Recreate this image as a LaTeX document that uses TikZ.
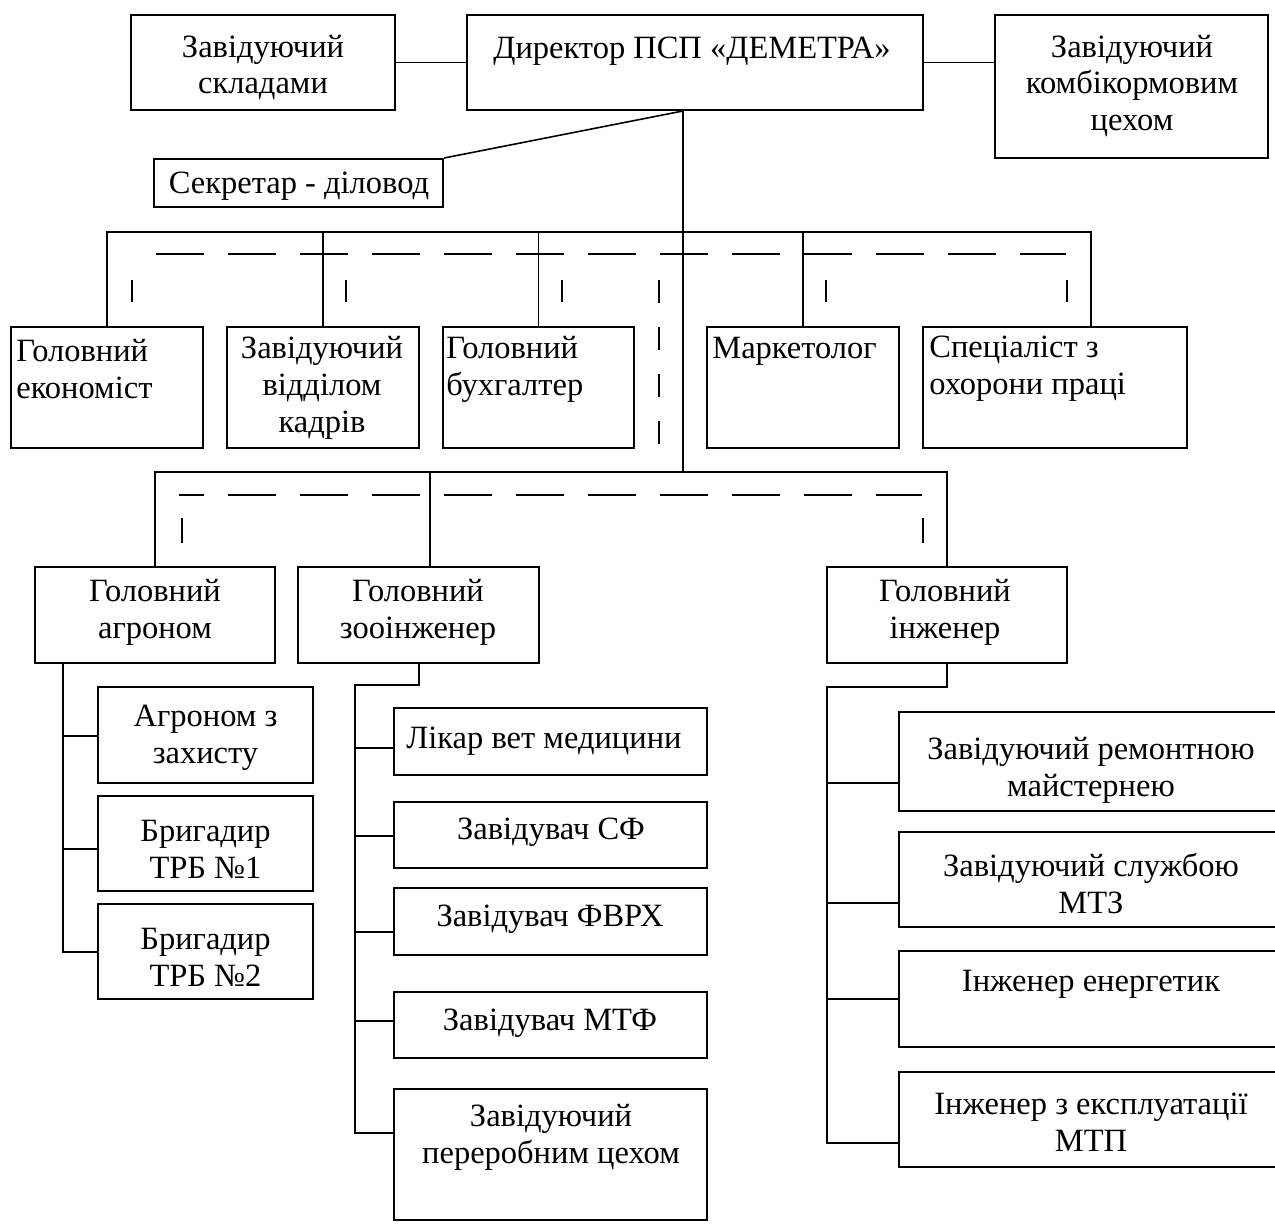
\documentclass[tikz,border=0pt]{standalone}
\usepackage{fontspec}
\setmainfont{Liberation Serif}
\usetikzlibrary{fit}

\begin{document}
\begin{tikzpicture}[x=0.02cm, y=-0.02cm,
	box/.style={draw, line width=1.1pt, inner sep=0pt},
	txt/.style={inner sep=0pt, align=center, yshift=-0.06cm, font=\fontsize{18.5}{21}\selectfont},
	ltxt/.style={txt, align=left, anchor=west},
	link/.style={line width=0.9pt},
	dashlink/.style={line width=0.9pt, dash pattern=on 27.3pt off 13.7pt}]
	\useasboundingbox (0,0) rectangle (1275,1224);

	\node[box, fit={(131,15) (395,110)}] (skl) {};	% top row
	\node[txt] (sklT) at (263,64.5) {Завідуючий\\складами};
	\node[box, fit={(467,15) (923,110)}] (dir) {};
	\node[txt] (dirT) at (692,48) {Директор ПСП «ДЕМЕТРА»};
	\node[box, fit={(995,15) (1268,158)}] (kcm) {};
	\node[txt] (kcmT) at (1132,83) {Завідуючий\\комбікормовим\\цехом};
	\node[box, fit={(154,159) (443,207)}] (sec) {};
	\node[txt] (secT) at (299,183) {Секретар - діловод};

	\node[box, fit={(11,327) (203,448)}] (eco) {};	% functional staff
	\node[ltxt] (ecoT) at (16,366) {Головний\\економіст};
	\node[box, fit={(227,327) (419,448)}] (kad) {};
	\node[txt] (kadT) at (322,384.5) {Завідуючий\\відділом\\кадрів};
	\node[box, fit={(443,327) (634,448)}] (buh) {};
	\node[ltxt] (buhT) at (446,366) {Головний\\бухгалтер};
	\node[box, fit={(707,327) (899,448)}] (mkt) {};
	\node[ltxt] (mktT) at (712,348) {Маркетолог};
	\node[box, fit={(923,327) (1187,448)}] (spc) {};
	\node[ltxt] (spcT) at (929,366) {Спеціаліст з\\охорони праці};

	\node[box, fit={(35,567) (275,663)}] (agr) {};	% chief specialists
	\node[txt] (agrT) at (155,609.5) {Головний\\агроном};
	\node[box, fit={(298,567) (539,663)}] (zoo) {};
	\node[txt] (zooT) at (418,609.5) {Головний\\зооінженер};
	\node[box, fit={(827,567) (1067,663)}] (inz) {};
	\node[txt] (inzT) at (945,609.5) {Головний\\інженер};

	\node[box, fit={(98,687) (313,783)}] (zah) {};	% agronomy
	\node[txt] (zahT) at (205.5,734.5) {Агроном з\\захисту};
	\node[box, fit={(98,796) (313,891)}] (br1) {};
	\node[txt] (br1T) at (205.5,846) {Бригадир\\ТРБ №1};
	\node[box, fit={(98,904) (313,999)}] (br2) {};
	\node[txt] (br2T) at (205.5,954.5) {Бригадир\\ТРБ №2};

	\node[box, fit={(394,708) (707,775)}] (lik) {};	% livestock
	\node[ltxt] (likT) at (406,738) {Лікар вет медицини};
	\node[box, fit={(394,802) (707,868)}] (sf) {};
	\node[txt] (sfT) at (551,829) {Завідувач СФ};
	\node[box, fit={(394,888) (707,955)}] (fvr) {};
	\node[txt] (fvrT) at (550,916) {Завідувач ФВРХ};
	\node[box, fit={(394,992) (707,1058)}] (mtf) {};
	\node[txt] (mtfT) at (550,1020) {Завідувач МТФ};
	\node[box, fit={(394,1089) (707,1220)}] (per) {};
	\node[txt] (perT) at (551,1134.5) {Завідуючий\\переробним цехом};

	\node[box, fit={(899,712) (1283,811)}] (rem) {};	% engineering
	\node[txt] (remT) at (1091,767.5) {Завідуючий ремонтною\\майстернею};
	\node[box, fit={(899,832) (1283,927)}] (mtz) {};
	\node[txt] (mtzT) at (1091,880.5) {Завідуючий службою\\МТЗ};
	\node[box, fit={(899,951) (1283,1047)}] (ene) {};
	\node[txt] (eneT) at (1091,981) {Інженер енергетик};
	\node[box, fit={(899,1072) (1283,1167)}] (mtp) {};
	\node[txt] (mtpT) at (1091,1119.5) {Інженер з експлуатації\\МТП};

	% director
	\coordinate (t2) at (683,232);
	\coordinate (t3) at (683,472);
	\draw[link] (skl.east) -- (dir.west);
	\draw[link] (dir.east) -- (dir.east -| kcm.west);
	\draw[link] (dir.south -| t2) -- (t3);
	\draw[link] (sec.north east) -- (dir.south -| t2);

	% second level
	\coordinate (b2r) at (1091,232);
	\draw[link] (eco.north) |- (b2r) -- (b2r |- spc.north);
	\foreach \n in {kad,buh,mkt}
		\draw[link] (\n.north) -- (\n.north |- t2);

	% third level
	\coordinate (b3z) at (430,472);
	\draw[link] (agr.north) |- (t3) -| (inz.north);
	\draw[link] (b3z) -- (b3z |- zoo.north);

	% dashed links
	\coordinate (d2a) at (156,254);
	\coordinate (d2b) at (1066,254);
	\draw[dashlink] (d2a) -- (d2b);
	\foreach \x in {132,346,562,826,1067}
		\draw[link] (\x,280) -- (\x,302);
	\draw[link, dash pattern=on 13.1pt off 13.7pt] (659,280) -- (659,447);
	\coordinate (d3a) at (179,495);
	\coordinate (d3b) at (922,495);
	\draw[dashlink, dash phase=13.1pt] (d3a) -- (d3b);
	\foreach \x in {182,923}
		\draw[link] (\x,518) -- (\x,543);

	% agronomy
	\coordinate (a1) at (63,736);
	\coordinate (a2) at (63,849);
	\coordinate (a3) at (63,952);
	\draw[link] (agr.south -| a3) -- (a3) -- (a3 -| br2.west);
	\draw[link] (a1) -- (a1 -| zah.west);
	\draw[link] (a2) -- (a2 -| br1.west);

	% livestock
	\coordinate (zs) at (419,685);
	\coordinate (zt) at (355,685);
	\coordinate (z5) at (355,1133);
	\draw[link] (zoo.south -| zs) -- (zs) -- (zt) -- (z5) -- (z5 -| per.west);
	\foreach \y/\n in {748/lik,836/sf,932/fvr,1021/mtf}
		\draw[link] (355,\y) -- (\n.west |- 0,\y);

	% engineering
	\coordinate (is) at (947,687);
	\coordinate (it) at (827,687);
	\coordinate (i4) at (827,1143);
	\draw[link] (inz.south -| is) -- (is) -- (it) -- (i4) -- (i4 -| mtp.west);
	\foreach \y/\n in {783/rem,903/mtz,999/ene}
		\draw[link] (827,\y) -- (\n.west |- 0,\y);
\end{tikzpicture}
\end{document}
